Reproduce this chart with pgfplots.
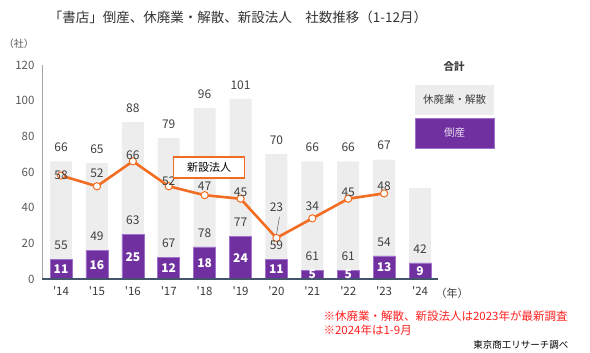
\documentclass[border=0pt]{standalone}
\usepackage{pgfplots}
\pgfplotsset{compat=1.18}
\usepackage{pgfplotstable}
\usepackage{fontspec}
\setmainfont{Noto Sans CJK JP}
\definecolor{tx}{HTML}{404040}
\definecolor{tickc}{HTML}{595959}
\definecolor{purp}{HTML}{7030A0}
\definecolor{purpedge}{HTML}{A070CC}
\definecolor{gbar}{HTML}{EDEDED}
\definecolor{orng}{HTML}{F26D21}
\definecolor{redn}{HTML}{FF2020}
\definecolor{xline}{HTML}{44546A}
\definecolor{yline}{HTML}{A6A6A6}
\newcommand{\q}{\textquotesingle}

\pgfplotstableread{
x bk cl nw dy
0 11 55 58 0
1 16 49 52 13
2 25 63 66 6
3 12 67 52 5
4 18 78 47 9
5 24 77 45 6
6 11 59 23 31
7 5 61 34 12
8 5 61 45 6
9 13 54 48 7
10 9 42 nan 0
}\data

\begin{document}
\begin{tikzpicture}
\useasboundingbox (0pt,0pt) rectangle (590pt,353pt);
\begin{axis}[
  at={(42pt,74pt)}, anchor=south west,
  scale only axis, width=396pt, height=214pt,
  xmin=-0.53, xmax=10.5, ymin=0, ymax=120,
  ytick={0,20,...,120},
  xtick={0,...,10},
  xticklabels={\q14,\q15,\q16,\q17,\q18,\q19,\q20,\q21,\q22,\q23,\q24},
  major tick length=0pt,
  axis line style={draw=none},
  /pgf/number format/assume math mode=true,
  yticklabel style={font=\fontsize{11.5}{12}\selectfont, text=tickc, xshift=-4pt},
  xticklabel style={font=\fontsize{11.5}{12}\selectfont, text=tx!90!black, yshift=-4pt},
  clip=false,
]
\addplot[ybar, bar width=22pt, bar shift=0pt, fill=gbar, draw=none]
  table[x=x, y expr=\thisrow{bk}+\thisrow{cl}] {\data};
\addplot[ybar, bar width=22pt, bar shift=0pt, fill=purp, draw=purpedge, line width=0.6pt]
  table[x=x, y=bk] {\data};
\draw[yline, line width=0.8pt] (rel axis cs:0,0) -- (rel axis cs:0,1);
\draw[xline, line width=1.6pt] (rel axis cs:0,0) -- (rel axis cs:1,0);
\addplot[orng, line width=2.6pt, mark=*, mark size=3.6pt,
  mark options={fill=white, draw=orng, line width=1pt}]
  table[x=x, y=nw] {\data};
\draw[tickc, line width=0.5pt] ([yshift=3pt]axis cs:6,23) -- ([xshift=3pt,yshift=21pt]axis cs:6,23);
% line labels
\addplot[draw=none, mark=none, nodes near coords, point meta=explicit,
  visualization depends on={\thisrow{dy} \as \dy},
  every node near coord/.append style={anchor=center, yshift=\dy pt, inner sep=0.5pt,
    font=\fontsize{12}{12}\selectfont, text=tx}]
  table[x=x, y=nw, meta=nw] {\data};
% bankruptcy labels
\addplot[draw=none, mark=none, nodes near coords, point meta=explicit,
  every node near coord/.append style={anchor=center, inner sep=0pt,
    font=\fontsize{12}{12}\selectfont\bfseries, text=white}]
  table[x=x, y expr=\thisrow{bk}/2, meta=bk] {\data};
% closure labels
\addplot[draw=none, mark=none, nodes near coords, point meta=explicit,
  every node near coord/.append style={anchor=center, yshift=14pt, inner sep=0pt,
    font=\fontsize{12}{12}\selectfont, text=tx}]
  table[x=x, y=bk, meta=cl] {\data};
% total labels
\addplot[draw=none, mark=none, nodes near coords, point meta=y,
  x filter/.expression={x==10 ? nan : x},
  every node near coord/.append style={anchor=center, yshift=14pt, inner sep=0pt,
    font=\fontsize{12}{12}\selectfont, text=tx}]
  table[x=x, y expr=\thisrow{bk}+\thisrow{cl}] {\data};
\end{axis}
% title and texts
\node[font=\fontsize{13.5}{14}\selectfont, text=tx!80!black] at (238pt,336pt) {「書店」倒産、休廃業・解散、新設法人\hspace{1em}社数推移（1-12月）};
\node[font=\fontsize{10}{10}\selectfont, text=tickc] at (19pt,309pt) {（社）};
\node[font=\fontsize{11}{11}\selectfont, text=tx] at (452pt,60pt) {（年）};
% legend
\node[font=\fontsize{10.5}{11}\selectfont\bfseries, text=tx] at (454pt,286pt) {合計};
\fill[gbar] (415pt,238pt) rectangle (494pt,268pt);
\node[font=\fontsize{10.5}{11}\selectfont, text=tx] at (454.5pt,253pt) {休廃業・解散};
\draw[fill=purp, draw=purpedge, line width=0.8pt] (415pt,205pt) rectangle (494pt,235pt);
\node[font=\fontsize{10.5}{11}\selectfont, text=white!85!purp] at (454.5pt,220pt) {倒産};
% annotation
\node[draw=orng, line width=1.5pt, fill=white, minimum width=71pt, minimum height=21pt,
  font=\fontsize{11}{11}\selectfont, text=black] at (209pt,185.5pt) {新設法人};
% notes
\node[anchor=west, font=\fontsize{11.5}{12}\selectfont, text=redn] at (320pt,37pt) {※休廃業・解散、新設法人は2023年が最新調査};
\node[anchor=west, font=\fontsize{11.5}{12}\selectfont, text=redn] at (320pt,23pt) {※2024年は1-9月};
\node[anchor=east, font=\fontsize{9.5}{10}\selectfont, text=black] at (572pt,8pt) {東京商工リサーチ調べ};
\end{tikzpicture}
\end{document}
